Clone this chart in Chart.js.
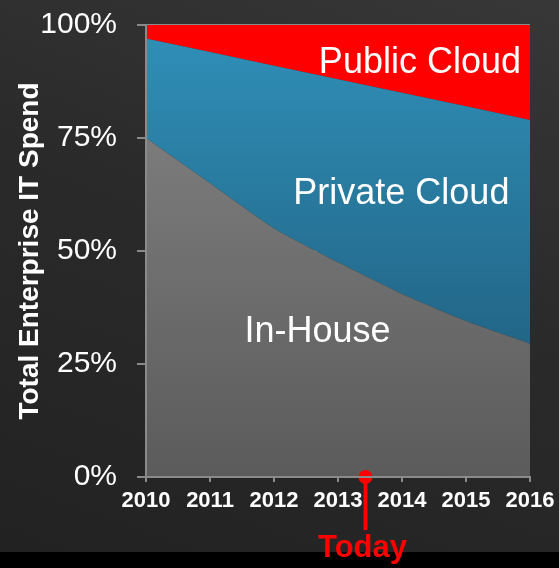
<!DOCTYPE html>
<html lang="en">
<head>
    <meta charset="UTF-8">
    <title>Total Enterprise IT Spend</title>
    <script src="https://cdn.jsdelivr.net/npm/chart.js"></script>
    <style>
        html, body { margin: 0; padding: 0; }
        body {
            width: 559px;
            height: 568px;
            overflow: hidden;
            background:
                linear-gradient(to bottom, transparent 552px, #000 552px),
                linear-gradient(200deg, #373737 0%, #2a2a2a 45%, #222 100%);
        }
        .chart-container { position: relative; width: 559px; height: 568px; }
    </style>
</head>
<body>
    <div class="chart-container">
        <canvas id="spendChart"></canvas>
    </div>
    <script>
        // share of IT spend, percent
        const years = [2010, 2011, 2012, 2013, 2014, 2015, 2016];
        const inHouse = [75, 65, 55, 47.5, 40.5, 34.5, 29.5];
        const privateCloud = [22, 29, 36, 40.5, 44.5, 47.5, 49.5];
        const publicCloud = [3, 6, 9, 12, 15, 18, 21];
        const yTicks = [0, 25, 50, 75, 100];
        const todayYear = 2013.43;

        // area captions, placed in data units (year, percent)
        const areaLabels = [
            { text: 'Public Cloud', x: 2014.28, y: 91.6 },
            { text: 'Private Cloud', x: 2013.99, y: 62.6 },
            { text: 'In-House', x: 2012.68, y: 32.0 }
        ];

        const toPoints = vals => years.map((yr, i) => ({ x: yr, y: vals[i] }));

        function vGradient(ctx, top, bottom) {
            const area = ctx.chart.chartArea;
            if (!area) return top;
            const g = ctx.chart.ctx.createLinearGradient(0, area.top, 0, area.bottom);
            g.addColorStop(0, top);
            g.addColorStop(1, bottom);
            return g;
        }

        const labelPlugin = {
            id: 'areaLabels',
            afterDatasetsDraw(chart) {
                const c = chart.ctx;
                const xs = chart.scales.x, ys = chart.scales.y;
                c.save();
                c.fillStyle = '#fff';
                c.font = '36px "Liberation Sans", Arial, sans-serif';
                c.textAlign = 'center';
                c.textBaseline = 'middle';
                areaLabels.forEach(l => {
                    c.fillText(l.text, xs.getPixelForValue(l.x), ys.getPixelForValue(l.y));
                });

                // today marker stem and caption
                const tx = xs.getPixelForValue(todayYear);
                const ty = ys.getPixelForValue(0) - 3;
                c.strokeStyle = '#ff0000';
                c.lineWidth = 4;
                c.beginPath();
                c.moveTo(tx, ty);
                c.lineTo(tx, 530);
                c.stroke();
                c.fillStyle = '#ff0000';
                c.font = 'bold 31px "Liberation Sans", Arial, sans-serif';
                c.textBaseline = 'alphabetic';
                c.fillText('Today', tx - 3, 557);
                c.restore();
            }
        };

        const ctx = document.getElementById('spendChart').getContext('2d');
        const spendChart = new Chart(ctx, {
            type: 'line',
            data: {
                datasets: [{
                    label: 'In-House',
                    data: toPoints(inHouse),
                    backgroundColor: c => vGradient(c, '#868686', '#5b5b5b'),
                    fill: 'origin',
                    borderWidth: 0,
                    pointRadius: 0,
                    tension: 0.15
                }, {
                    label: 'Private Cloud',
                    data: toPoints(privateCloud),
                    backgroundColor: c => vGradient(c, '#3090b9', '#1c5472'),
                    fill: '-1',
                    borderWidth: 0,
                    pointRadius: 0,
                    tension: 0
                }, {
                    label: 'Public Cloud',
                    data: toPoints(publicCloud),
                    backgroundColor: '#ff0000',
                    fill: '-1',
                    borderWidth: 0,
                    pointRadius: 0,
                    tension: 0
                }, {
                    label: 'Today',
                    type: 'scatter',
                    stack: 'today',
                    data: [{ x: todayYear, y: 0 }],
                    backgroundColor: '#ff0000',
                    borderWidth: 0,
                    pointRadius: 7,
                    clip: false,
                    order: -1
                }]
            },
            options: {
                responsive: true,
                maintainAspectRatio: false,
                animation: false,
                events: [],
                layout: { padding: { top: 25, right: 29, left: 0, bottom: 0 } },
                plugins: {
                    legend: { display: false },
                    tooltip: { enabled: false }
                },
                scales: {
                    x: {
                        type: 'linear',
                        min: 2010,
                        max: 2016,
                        grid: {
                            drawOnChartArea: false,
                            color: '#8a8a8a',
                            lineWidth: 2,
                            tickLength: 5
                        },
                        border: { display: true, color: '#8a8a8a', width: 2, z: 1 },
                        ticks: {
                            stepSize: 1,
                            color: '#fff',
                            padding: 6,
                            maxRotation: 0,
                            font: { family: '"Liberation Sans", Arial, sans-serif', size: 22, weight: 'bold' },
                            callback: v => String(v)
                        },
                        afterFit: s => {
                            s.height = 91;
                            s.paddingLeft = 0;
                            s.paddingRight = 0;
                        }
                    },
                    y: {
                        stacked: true,
                        min: 0,
                        max: 100,
                        afterBuildTicks: s => { s.ticks = yTicks.map(v => ({ value: v })); },
                        grid: {
                            color: '#8a8a8a',
                            lineWidth: 2,
                            tickLength: 9
                        },
                        border: { display: true, color: '#8a8a8a', width: 2, z: 1 },
                        ticks: {
                            color: '#fff',
                            padding: 20,
                            font: { family: '"Liberation Sans", Arial, sans-serif', size: 30 },
                            callback: v => v + '%'
                        },
                        title: {
                            display: true,
                            text: 'Total Enterprise IT Spend',
                            color: '#fff',
                            padding: { top: 13, bottom: 0 },
                            font: { family: '"Liberation Sans", Arial, sans-serif', size: 28, weight: 'bold' }
                        },
                        afterFit: s => {
                            s.width = 146;
                            s.paddingTop = 0;
                            s.paddingBottom = 0;
                        }
                    }
                }
            },
            plugins: [labelPlugin]
        });
    </script>
</body>
</html>
